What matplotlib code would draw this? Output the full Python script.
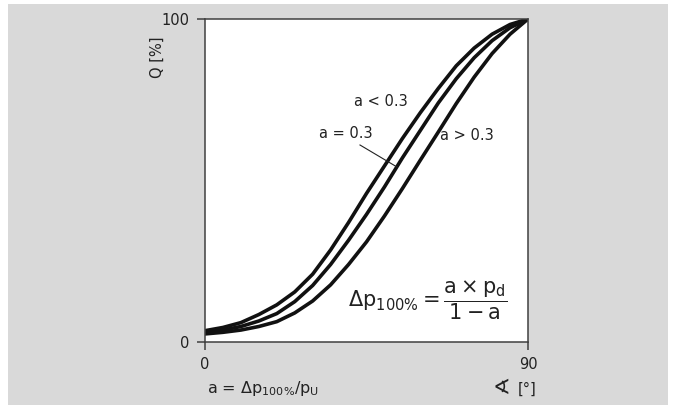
import numpy as np
import matplotlib.pyplot as plt
from matplotlib.patches import Rectangle

# Kąt otwarcia [°] i przepływ Q [%]
kat = [0, 5, 10, 15, 20, 25, 30, 35, 40, 45, 50, 55, 60, 65, 70, 75, 80, 85, 90]
q_mniej = [3.5, 4.5, 6, 8.5, 11.5, 15.5, 21, 28.5, 37, 46, 54.5, 63, 71, 78.5, 85.5, 91, 95.3, 98.3, 100]
q_rowne = [3, 3.7, 4.8, 6.5, 8.8, 12.5, 17.5, 24, 31.5, 39.5, 48, 57, 65.5, 74, 81.5, 88, 93.3, 97.3, 100]
q_wiecej = [2.5, 3, 3.7, 4.8, 6.3, 9, 12.7, 17.7, 24, 31, 39, 47.5, 56.3, 65, 73.8, 82, 89.3, 95.3, 100]

etykiety = ["a < 0.3", "a = 0.3", "a > 0.3"]
x_ticks = [0, 90]
y_ticks = [0, 100]

W, H = 676, 409
fig = plt.figure(figsize=(W / 100, H / 100), dpi=100, facecolor="white")
fig.patches.append(Rectangle((8 / W, 4 / H), 660 / W, 401 / H, transform=fig.transFigure,
                             facecolor="#d9d9d9", edgecolor="none", zorder=-10))

ax = fig.add_axes([205 / W, 1 - 342 / H, 323 / W, 323 / H])
ax.set_facecolor("white")

for q in [q_mniej, q_rowne, q_wiecej]:
    ax.plot(kat, q, color="#111111", lw=2.6, solid_capstyle="round", solid_joinstyle="round")

ax.set_xlim(0, 90)
ax.set_ylim(0, 100)
ax.set_xticks(x_ticks)
ax.set_yticks(y_ticks)
ax.tick_params(direction="out", length=6, width=1.1, color="#404040",
               labelsize=10.5, labelcolor="#222222", pad=5)
for s in ax.spines.values():
    s.set_color("#404040")
    s.set_linewidth(1.1)

txt = dict(color="#222222", fontsize=10.5)


def px(x, y):
    # pozycja w pikselach obrazu -> współrzędne figury
    return x / W, 1 - y / H


fig.text(*px(381, 101), etykiety[0], ha="center", va="center", **txt)
fig.text(*px(346, 133), etykiety[1], ha="center", va="center", **txt)
fig.text(*px(467, 135), etykiety[2], ha="center", va="center", **txt)

# linia odniesienia do krzywej a = 0.3
x0, y0 = px(360, 145)
x1, y1 = px(397, 167)
fig.add_artist(plt.Line2D([x0, x1], [y0, y1], color="#222222", lw=0.8))

# wzór
fig.text(*px(348, 300), r"$\mathregular{\Delta p_{100\%} = \dfrac{a \times p_d}{1 - a}}$",
         ha="left", va="center", color="#222222", fontsize=15)

# opisy osi
fig.text(*px(157, 57), "Q [%]", rotation=90, ha="center", va="center", **txt)
fig.text(*px(207, 388), r"a = Δp$\mathregular{_{100\%}}$/p$\mathregular{_U}$",
         ha="left", va="center", color="#222222", fontsize=11.5)
fig.text(*px(493, 394), "∢", ha="left", va="baseline", color="#222222", fontsize=15)
fig.text(*px(518, 389), "[°]", ha="left", va="center", **txt)

fig.savefig("out.png", dpi=100, facecolor="white")
